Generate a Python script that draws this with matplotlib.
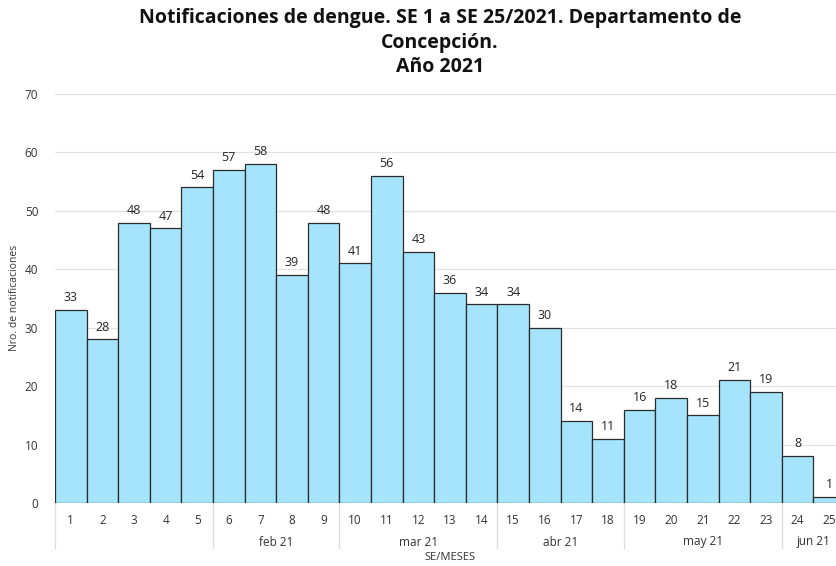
import matplotlib
matplotlib.use("Agg")
import matplotlib.pyplot as plt
import numpy as np

weeks = list(range(1, 26))
values = [33, 28, 48, 47, 54, 57, 58, 39, 48, 41, 56, 43, 36, 34, 34, 30, 14, 11, 16, 18, 15, 21, 19, 8, 1]
months = ["", "feb 21", "mar 21", "abr 21", "may 21", "jun 21"]
month_weeks = [(1, 5), (6, 9), (10, 14), (15, 18), (19, 23), (24, 25)]

plt.rcParams['font.family'] = ['Open Sans', 'DejaVu Sans']

fig = plt.figure(figsize=(8.37, 5.66), dpi=100)
W, H = 837, 566
left, right, top, bottom = 55, 845, 94, 503
ax = fig.add_axes([left / W, 1 - bottom / H, (right - left) / W, (bottom - top) / H])

bars = ax.bar(weeks, values, width=1.0, color="#a6e4fb", edgecolor="#2b2b2b", linewidth=0.9, zorder=3)
for x, v in zip(weeks, values):
    ax.text(x, v + 1.0, str(v), ha="center", va="bottom", fontsize=9, color="#252525", zorder=4)

ax.set_xlim(0.5, 25.5)
ax.set_ylim(0, 70)
ax.set_yticks(range(0, 71, 10))
ax.yaxis.grid(True, color="#e3e3e3", linewidth=0.9, zorder=0)
ax.set_axisbelow(True)
for s in ax.spines.values():
    s.set_visible(False)
ax.tick_params(axis="y", length=0, labelsize=8.5, labelcolor="#333333", pad=12)
ax.set_xticks(weeks)
ax.set_xticklabels([str(w) for w in weeks])
ax.tick_params(axis="x", length=0, labelsize=8.5, labelcolor="#333333", pad=8)
ax.axhline(0, color="#e3e3e3", linewidth=0.9, zorder=1)

# month separators and labels
trans = ax.get_xaxis_transform()
for (a, b), m in zip(month_weeks, months):
    ax.plot([a - 0.5, a - 0.5], [0, -45 / (bottom - top)], transform=trans,
            color="#dddddd", linewidth=0.9, clip_on=False)
    if m:
        ax.text((a + b) / 2, -39 / (bottom - top), m, transform=trans, ha="center", va="center",
                fontsize=8.5, color="#333333")

ax.text(13, -55 / (bottom - top), "SE/MESES", transform=trans, ha="center", va="center",
        fontsize=8, color="#333333")
fig.text(15 / W, 1 - 298 / H, "Nro. de notificaciones", rotation=90, ha="center", va="center",
         fontsize=7.5, color="#333333")

fig.text(440 / W, 1 - 43 / H, "Notificaciones de dengue. SE 1 a SE 25/2021. Departamento de\nConcepción.\nAño 2021",
         ha="center", va="center", fontsize=14, fontweight="bold", color="#111111", linespacing=1.3)

fig.savefig("out.png", dpi=100)
